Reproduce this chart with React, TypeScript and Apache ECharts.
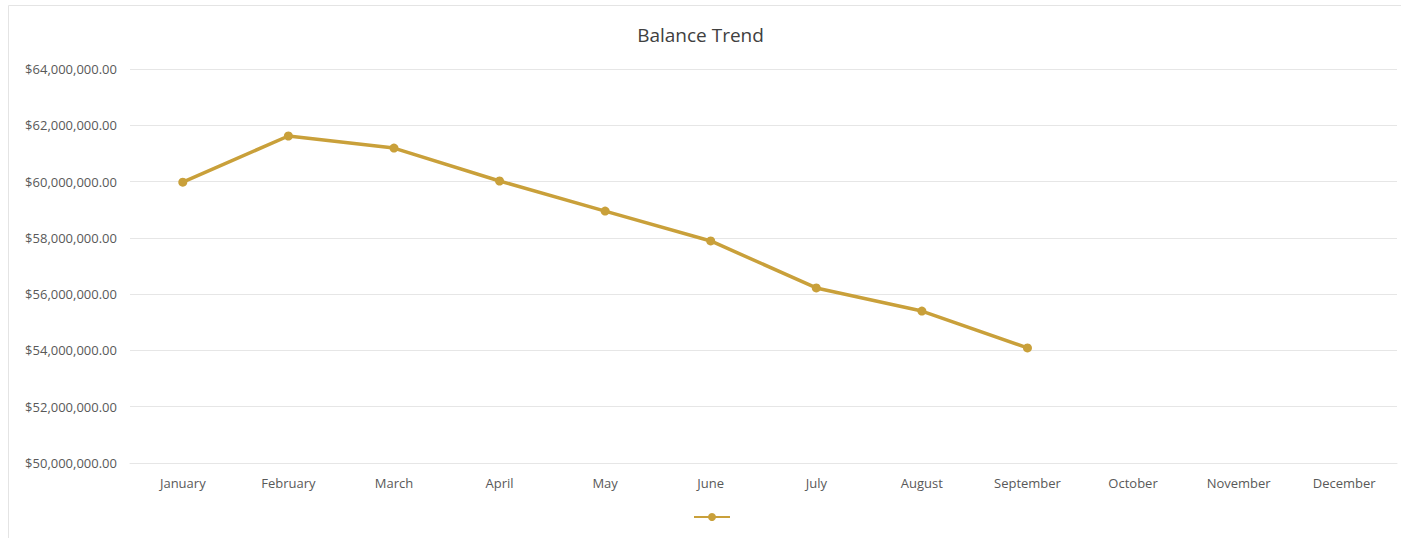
import React, { useEffect, useRef } from "react";
import * as echarts from "echarts";

const months = ["January", "February", "March", "April", "May", "June", "July", "August", "September", "October", "November", "December"];
const balances: (number | null)[] = [59980000, 61620000, 61190000, 60020000, 58950000, 57890000, 56220000, 55400000, 54090000, null, null, null];
const yMin = 50000000;
const yMax = 64000000;
const yStep = 2000000;

const fmt = (v: number) =>
  "$" + v.toLocaleString("en-US", { minimumFractionDigits: 2, maximumFractionDigits: 2 });

export default function App() {
  const ref = useRef<HTMLDivElement>(null);
  useEffect(() => {
    const chart = echarts.init(ref.current!, undefined, { renderer: "svg" });
    const gold = "#C9A03A";
    chart.setOption({
      animation: false,
      backgroundColor: "#ffffff",
      title: {
        text: "Balance Trend",
        left: "center",
        top: 20,
        textStyle: { fontFamily: "Open Sans", fontSize: 19, fontWeight: "normal", color: "#404040" },
      },
      graphic: [
        {
          type: "rect",
          shape: { x: 8.5, y: 5.5, width: 1400, height: 540 },
          style: { fill: "none", stroke: "#e4e4e4", lineWidth: 1 },
          silent: true,
        },
      ],
      grid: { left: 130, right: 4, top: 69, bottom: 75, containLabel: false },
      legend: {
        top: 512,
        left: 693,
        itemWidth: 36,
        itemHeight: 10,
        formatter: () => "",
        itemGap: 0,
        padding: 0,
        data: [" "],
      },
      xAxis: {
        type: "category",
        data: months,
        boundaryGap: true,
        axisLine: { show: true, lineStyle: { color: "#e6e6e6" } },
        axisTick: { show: false },
        axisLabel: { fontFamily: "Open Sans", fontSize: 13, color: "#595959", margin: 13 },
      },
      yAxis: {
        type: "value",
        min: yMin,
        max: yMax,
        interval: yStep,
        axisLine: { show: false },
        axisTick: { show: false },
        splitLine: { lineStyle: { color: "#e6e6e6" } },
        axisLabel: { fontFamily: "Open Sans", fontSize: 13, color: "#595959", margin: 13, formatter: (v: number) => fmt(v) },
      },
      series: [
        {
          name: " ",
          type: "line",
          data: balances,
          symbol: "circle",
          symbolSize: 9,
          lineStyle: { color: gold, width: 3.5 },
          itemStyle: { color: gold },
        },
      ],
    });
    return () => chart.dispose();
  }, []);
  return <div ref={ref} style={{ position: "absolute", left: 0, top: 0, width: 1401, height: 538 }} />;
}
